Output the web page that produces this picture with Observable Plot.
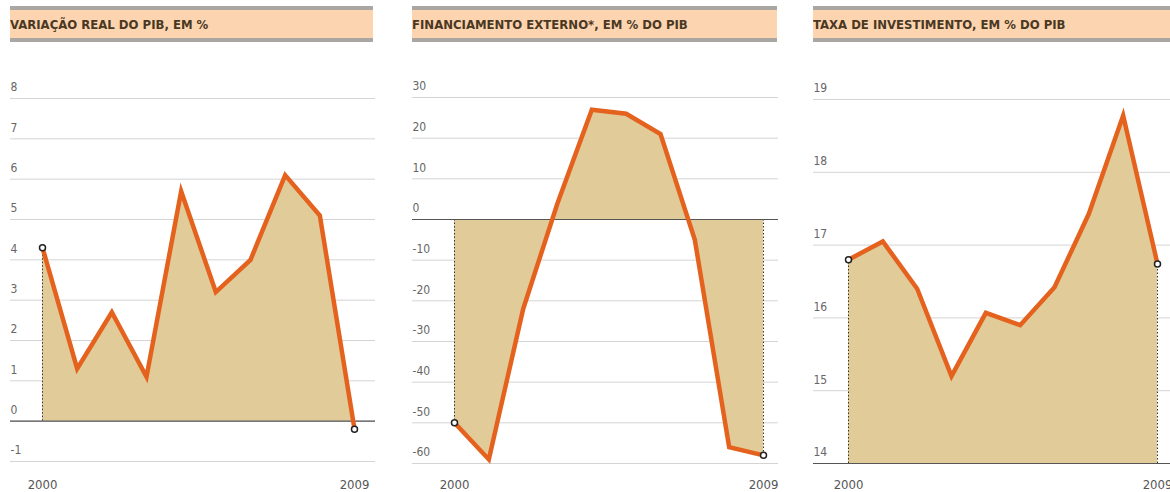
<!DOCTYPE html>
<html>
<head>
<meta charset="utf-8">
<script src="https://cdn.jsdelivr.net/npm/d3@7"></script>
<script src="https://cdn.jsdelivr.net/npm/@observablehq/plot@0.6"></script>
<style>
  html, body { margin: 0; padding: 0; background: #fff; }
  body { width: 1170px; height: 492px; overflow: hidden; position: relative;
         font-family: "DejaVu Sans Condensed", "DejaVu Sans", sans-serif; font-stretch: condensed; }
  .hdr { position: absolute; top: 6px; height: 28px; line-height: 29px;
         border-top: 4px solid #aaa7a3; border-bottom: 4px solid #aaa7a3;
         background: #fdd4b0; color: #4a3823; font-size: 13px; font-weight: bold;
         font-family: "DejaVu Sans Condensed", "DejaVu Sans", sans-serif; font-stretch: condensed;
         white-space: nowrap; overflow: hidden; }
  .panel { position: absolute; top: 50px; }
  .panel svg { max-width: none !important; overflow: visible; }
</style>
</head>
<body>
<script>
// ---- data ----
const years = [2000, 2001, 2002, 2003, 2004, 2005, 2006, 2007, 2008, 2009];
const pib = [4.3, 1.3, 2.7, 1.1, 5.7, 3.2, 4.0, 6.1, 5.1, -0.2];
const financiamento = [-50, -59, -22, 4, 27, 26, 21, -5, -56, -58];
const investimento = [16.8, 17.05, 16.4, 15.2, 16.07, 15.9, 16.42, 17.43, 18.78, 16.74];

const pibTicks = [-1, 0, 1, 2, 3, 4, 5, 6, 7, 8];
const finTicks = [-60, -50, -40, -30, -20, -10, 0, 10, 20, 30];
const invTicks = [14, 15, 16, 17, 18, 19];
const yearLabels = [2000, 2009];

const titles = [
  "VARIAÇÃO REAL DO PIB, EM %",
  "FINANCIAMENTO EXTERNO*, EM % DO PIB",
  "TAXA DE INVESTIMENTO, EM % DO PIB"
];

// ---- layout ----
const panels = [
  {title: titles[0], values: pib, ticks: pibTicks, base: 0, yDomain: [-1, 8],
   left: 0, width: 390, mL: 10, mR: 15, xRange: [42, 354], yRange: [411, 48], hdr: [10, 373]},
  {title: titles[1], values: financiamento, ticks: finTicks, base: 0, yDomain: [-60, 30],
   left: 400, width: 390, mL: 12, mR: 12, xRange: [54, 363], yRange: [413, 47], hdr: [412, 777]},
  {title: titles[2], values: investimento, ticks: invTicks, base: 14, yDomain: [14, 19],
   left: 790, width: 400, mL: 23, mR: 0, xRange: [58, 367], yRange: [413, 49], hdr: [813, 1175]}
];

const H = 442;
const fillC = "#e0cb99";
const lineC = "#e5621e";

for (const p of panels) {
  const data = years.map((year, i) => ({year, v: p.values[i]}));
  const ends = [data[0], data[data.length - 1]];

  const hdr = document.createElement("div");
  hdr.className = "hdr";
  hdr.style.left = p.hdr[0] + "px";
  hdr.style.width = (p.hdr[1] - p.hdr[0]) + "px";
  hdr.textContent = p.title;
  document.body.appendChild(hdr);

  const chart = Plot.plot({
    width: p.width,
    height: H,
    marginLeft: p.mL,
    marginRight: p.mR,
    marginTop: 0,
    marginBottom: 22,
    style: {fontFamily: '"DejaVu Sans Condensed", "DejaVu Sans", sans-serif', fontStretch: "condensed", background: "transparent"},
    x: {domain: [2000, 2009], range: p.xRange, axis: null},
    y: {domain: p.yDomain, range: p.yRange, axis: null},
    marks: [
      Plot.ruleY(p.ticks, {stroke: "#d4d4d4", strokeWidth: 1}),
      Plot.areaY(data, {x: "year", y1: p.base, y2: "v", fill: fillC}),
      Plot.ruleX(ends, {x: "year", y1: p.base, y2: "v", stroke: "#333", strokeWidth: 1, strokeDasharray: "1.5,2"}),
      Plot.ruleY([p.base], {stroke: "#555", strokeWidth: 1.2}),
      Plot.lineY(data, {x: "year", y: "v", stroke: lineC, strokeWidth: 4.5, strokeLinejoin: "miter", strokeMiterlimit: 4}),
      Plot.dot(ends, {x: "year", y: "v", r: 3, fill: "#fff", stroke: "#222", strokeWidth: 1.5}),
      Plot.text(p.ticks, {y: d => d, text: d => String(d), frameAnchor: "left", textAnchor: "start",
                          dy: -11, fill: "#666", fontSize: 12}),
      Plot.axisX(yearLabels, {tickSize: 0, tickPadding: 9, tickFormat: d => String(d),
                              fontSize: 13, fill: "#555", label: null})
    ]
  });

  const wrap = document.createElement("div");
  wrap.className = "panel";
  wrap.style.left = p.left + "px";
  wrap.appendChild(chart);
  document.body.appendChild(wrap);
}
</script>
</body>
</html>
